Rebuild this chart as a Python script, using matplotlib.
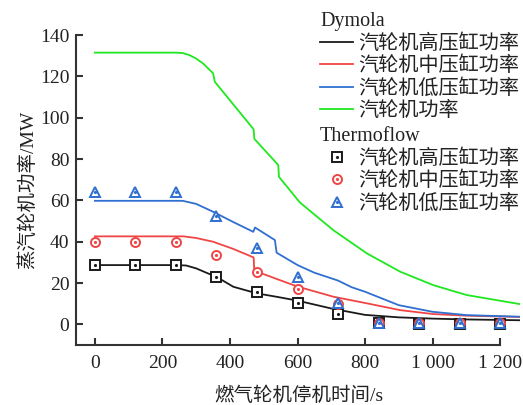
import matplotlib
matplotlib.use("Agg")
import matplotlib.pyplot as plt

plt.rcParams['font.family'] = ['Liberation Serif', 'Noto Sans CJK SC', 'DejaVu Sans']
plt.rcParams['font.size'] = 14
plt.rcParams['axes.unicode_minus'] = False

# Dymola simulation curves (shutdown time s, power MW)
hp_x = [0, 240, 270, 300, 330, 360, 410, 480, 540, 600, 700, 800, 900, 1000, 1100, 1260]
hp_y = [28.7, 28.7, 28.5, 27.1, 25.0, 23.0, 18.2, 15.0, 13.3, 11.5, 7.7, 4.6, 3.4, 2.8, 2.4, 2.0]

ip_x = [0, 262, 300, 350, 410, 470, 472, 548, 600, 706, 805, 904, 1002, 1101, 1260]
ip_y = [42.6, 42.6, 41.8, 40.0, 36.5, 32.4, 26.0, 21.4, 18.3, 13.4, 10.2, 6.9, 5.0, 4.2, 3.6]

lp_x = [0, 260, 300, 350, 410, 469, 474, 533, 538, 600, 650, 700, 720, 760, 800, 900, 1000, 1100, 1260]
lp_y = [59.8, 59.8, 58.3, 54.5, 49.5, 44.8, 46.9, 40.8, 34.7, 28.7, 25.0, 22.3, 21.2, 18.0, 15.8, 9.3, 6.1, 4.5, 3.7]

tot_x = [0, 240, 260, 280, 300, 320, 350, 355, 470, 472, 543, 545, 607, 706, 805, 904, 1002, 1101, 1259]
tot_y = [131.5, 131.5, 131.3, 130.3, 128.6, 126.3, 121.5, 117.4, 94.4, 89.8, 77.1, 71.4, 59.0, 45.6, 34.4, 25.5, 19.0, 14.2, 9.8]

# Thermoflow points
tf_x = [0, 120, 240, 360, 480, 600, 720, 840, 960, 1080, 1200]
hp_tf = [28.6, 28.8, 28.8, 22.7, 15.8, 10.2, 5.0, 0.5, 0.3, 0.3, 0.3]
ip_tf = [39.7, 39.7, 39.7, 33.5, 25.2, 17.2, 10.0, 0.8, 0.5, 0.5, 0.5]
lp_tf = [64.2, 64.2, 64.2, 52.6, 37.0, 22.7, 10.5, 0.8, 0.5, 0.5, 0.5]

labels = ['汽轮机高压缸功率', '汽轮机中压缸功率', '汽轮机低压缸功率', '汽轮机功率']
c_hp, c_ip, c_lp, c_tot = '#1a1a1a', '#f04545', '#2f6fd0', '#1fe81f'

fig = plt.figure(figsize=(5.23, 4.05), dpi=100)
ax = fig.add_axes([0.146, 0.148, 0.849, 0.7654])

lw = 1.3
l1, = ax.plot(hp_x, hp_y, color=c_hp, lw=lw)
l2, = ax.plot(ip_x, ip_y, color=c_ip, lw=lw)
l3, = ax.plot(lp_x, lp_y, color=c_lp, lw=lw)
l4, = ax.plot(tot_x, tot_y, color=c_tot, lw=lw)

ms, mew = 6.5, 1.4
m1, = ax.plot(tf_x, hp_tf, ls='none', marker='s', ms=ms, mew=mew, mec=c_hp, mfc='white')
d1, = ax.plot(tf_x, hp_tf, ls='none', marker='.', ms=2.5, color=c_hp)
m2, = ax.plot(tf_x, ip_tf, ls='none', marker='o', ms=ms, mew=mew, mec=c_ip, mfc='white')
d2, = ax.plot(tf_x, ip_tf, ls='none', marker='.', ms=2.5, color=c_ip)
m3, = ax.plot(tf_x, lp_tf, ls='none', marker='^', ms=ms + 1, mew=mew, mec=c_lp, mfc='white')
d3, = ax.plot(tf_x, lp_tf, ls='none', marker='.', ms=2.5, color=c_lp)

ax.set_xlim(-55, 1260)
ax.set_ylim(-10, 140)
ax.set_xticks(range(0, 1201, 200))
ax.set_xticklabels(['0', '200', '400', '600', '800', '1 000', '1 200'])
ax.set_yticks(range(0, 141, 20))
for s in ['top', 'right']:
    ax.spines[s].set_visible(False)
ax.spines['bottom'].set_bounds(-55, 1200)
for s in ['left', 'bottom']:
    ax.spines[s].set_linewidth(1.5)
    ax.spines[s].set_color('#333333')
ax.tick_params(direction='in', length=5, width=1.5, color='#333333',
               labelsize=14, labelcolor='#222222')
ax.tick_params(axis='x', pad=7)
ax.tick_params(axis='y', pad=5)

ax.set_xlabel('燃气轮机停机时间/s', fontsize=14, color='#222222', labelpad=11)
ax.set_ylabel('蒸汽轮机功率/MW', fontsize=14, color='#222222', labelpad=2)

leg_kw = dict(loc='upper left', frameon=False, fontsize=14.5, title_fontsize=14.5,
              alignment='left', handlelength=1.65, handletextpad=0.25,
              labelspacing=0.15, borderpad=0, borderaxespad=0)
leg1 = fig.legend([l1, l2, l3, l4], labels, title='Dymola',
                  bbox_to_anchor=(0.612, 0.97), **leg_kw)
leg2 = fig.legend([(m1, d1), (m2, d2), (m3, d3)], labels[:3], title='Thermoflow',
                  bbox_to_anchor=(0.612, 0.686), **leg_kw)
for leg in (leg1, leg2):
    for t in leg.get_texts():
        t.set_color('#222222')
    leg.get_title().set_color('#222222')

fig.savefig('out.png', dpi=100)
